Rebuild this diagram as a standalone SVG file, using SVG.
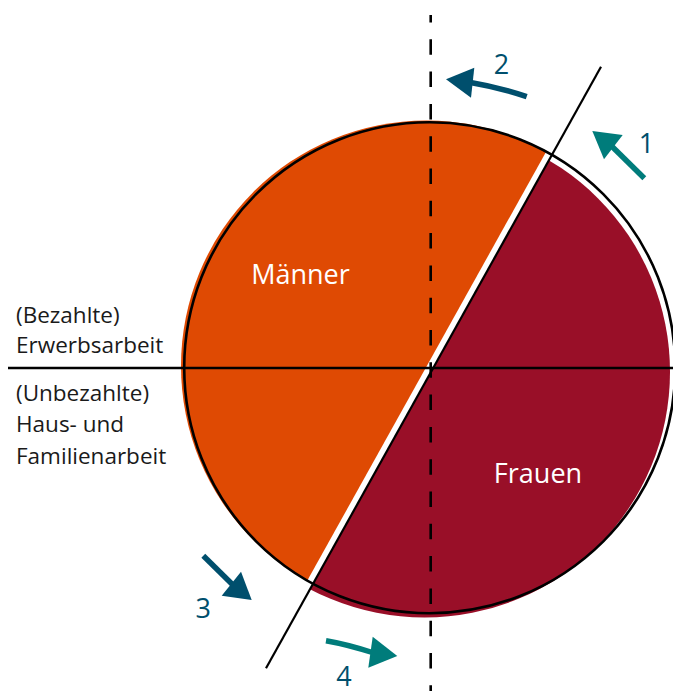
<svg xmlns="http://www.w3.org/2000/svg" width="673" height="691" viewBox="0 0 673 691">
<style>
.lbl{font-family:"Open Sans","Noto Sans","Liberation Sans",sans-serif;font-size:22.5px;fill:#1a1a1a}
.in{font-family:"Open Sans","Noto Sans","Liberation Sans",sans-serif;font-size:27px;fill:#ffffff;text-anchor:middle}
.num{font-family:"Open Sans","Noto Sans","Liberation Sans",sans-serif;font-size:27px;text-anchor:middle}
.ln{stroke:#000;fill:none}
.teal{fill:#007c7b}
.blue{fill:#004f6d}
.shT{stroke:#007c7b;stroke-width:5.5;fill:none}
.shB{stroke:#004f6d;stroke-width:5.5;fill:none}
</style>
<defs>
<clipPath id="cR"><polygon points="693.8,-100 800,-100 800,800 192.6,800"/></clipPath>
<clipPath id="cO"><polygon points="686.3,-100 -100,-100 -100,800 185.1,800"/></clipPath>
</defs>
<rect width="673" height="691" fill="#ffffff"/>
<g id="pie">
<circle id="maenner-fill" cx="426.5" cy="366" r="245.5" fill="#df4a03" clip-path="url(#cO)"/>
<circle id="frauen-fill" cx="424.5" cy="372" r="245.5" fill="#990f28" clip-path="url(#cR)"/>
<circle cx="429.7" cy="367.7" r="245.5" class="ln" stroke-width="2.6"/>
</g>
<g id="axes">
<line x1="8" y1="368" x2="673" y2="368" class="ln" stroke-width="2.4"/>
<line x1="430.7" y1="15" x2="430.7" y2="691" class="ln" stroke-width="2.6" stroke-dasharray="15.5 16.8" stroke-dashoffset="8"/>
<line x1="266" y1="668.3" x2="601" y2="66.7" class="ln" stroke-width="2.2"/>
</g>
<g id="texts">
<text class="in" x="300.5" y="284">Männer</text>
<text class="in" x="538" y="483">Frauen</text>
<text class="lbl" x="16" y="323">(Bezahlte)</text>
<text class="lbl" x="16" y="353">Erwerbsarbeit</text>
<text class="lbl" x="16" y="401">(Unbezahlte)</text>
<text class="lbl" x="16" y="432">Haus- und</text>
<text class="lbl" x="16" y="464">Familienarbeit</text>
</g>
<g id="connectors">
<g id="arrow1">
<line x1="644.3" y1="178.3" x2="610" y2="144.5" class="shT"/>
<polygon class="teal" points="592.3,131 622.7,135 604,159.3"/>
<text class="num" fill="#004f6d" x="646.5" y="153">1</text>
</g>
<g id="arrow2">
<path d="M526.7,96.7 Q500,87.5 468,82" class="shB"/>
<polygon class="blue" points="446,79.3 474.3,67.7 471,97.7"/>
<text class="num" fill="#004f6d" x="501.5" y="74">2</text>
</g>
<g id="arrow3">
<line x1="203.3" y1="555.7" x2="234" y2="586" class="shB"/>
<polygon class="blue" points="251.7,600 241,571.7 221.7,595.7"/>
<text class="num" fill="#004f6d" x="203.3" y="617.5">3</text>
</g>
<g id="arrow4">
<path d="M326,640.7 Q348,644.5 374,653" class="shT"/>
<polygon class="teal" points="397.3,656 372.7,636.7 368.3,667.7"/>
<text class="num" fill="#004f6d" x="344" y="686">4</text>
</g>
</g>
</svg>
